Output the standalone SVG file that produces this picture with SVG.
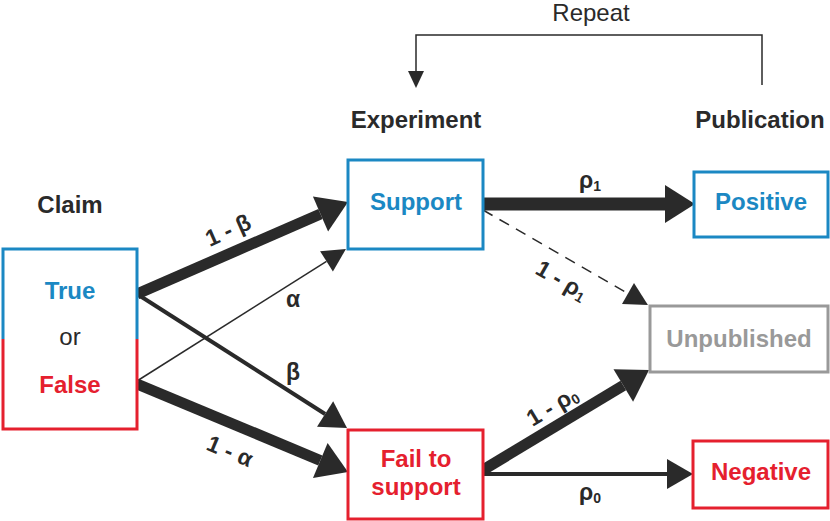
<svg xmlns="http://www.w3.org/2000/svg" width="830" height="521" viewBox="0 0 830 521">
<defs>
<style>
text{font-family:"Liberation Sans",Arial,sans-serif;}
.h{font-size:24px;font-weight:bold;fill:#2a2a2a;text-anchor:middle;}
.n{font-size:24px;font-weight:bold;text-anchor:middle;}
.blue{fill:#1b88c3;}
.red{fill:#e5202e;}
.gray{fill:#999999;}
.lbl{font-size:23px;font-weight:bold;fill:#2a2a2a;text-anchor:middle;}
.sub{font-size:14px;}
.box{fill:#fff;stroke-width:3;}
.bb{stroke:#1b88c3;}
.rb{stroke:#e5202e;}
.gb{stroke:#999999;}
.c{fill:none;stroke:#2a2a2a;stroke-linecap:butt;}
</style>
<marker id="big" markerUnits="userSpaceOnUse" markerWidth="32" markerHeight="40" refX="0" refY="20" orient="auto" viewBox="0 0 32 40" overflow="visible">
<path d="M0,1 L30,20 L0,39 z" fill="#2a2a2a"/>
</marker>
<marker id="med" markerUnits="userSpaceOnUse" markerWidth="28" markerHeight="30" refX="0" refY="15" orient="auto" viewBox="0 0 28 30" overflow="visible">
<path d="M0,0 L26,15 L0,30 z" fill="#2a2a2a"/>
</marker>
<marker id="sm" markerUnits="userSpaceOnUse" markerWidth="24" markerHeight="26" refX="0" refY="13" orient="auto" viewBox="0 0 24 26" overflow="visible">
<path d="M0,1 L23,13 L0,25 z" fill="#2a2a2a"/>
</marker>
<marker id="tiny" markerUnits="userSpaceOnUse" markerWidth="18" markerHeight="18" refX="0" refY="9" orient="auto" viewBox="0 0 18 18" overflow="visible">
<path d="M0,1 L17,9 L0,17 z" fill="#2a2a2a"/>
</marker>
</defs>
<rect width="830" height="521" fill="#fff"/>

<g id="headers">
<text class="h" x="70" y="213">Claim</text>
<text class="h" x="416" y="128">Experiment</text>
<text class="h" x="760" y="128">Publication</text>
<text x="591" y="21" font-size="24" fill="#2a2a2a" text-anchor="middle">Repeat</text>
</g>

<g id="connectors">
<path class="c" stroke-width="1.5" d="M762,85 V35 H416 V71" marker-end="url(#tiny)"/>
<line class="c" stroke-width="11" x1="137" y1="294" x2="320.5" y2="214" marker-end="url(#big)"/>
<line class="c" stroke-width="1.5" x1="137" y1="381" x2="326.5" y2="261.3" marker-end="url(#sm)"/>
<line class="c" stroke-width="4" x1="137" y1="294" x2="325.1" y2="414" marker-end="url(#med)"/>
<line class="c" stroke-width="11" x1="137" y1="384" x2="320.3" y2="460.5" marker-end="url(#big)"/>
<line class="c" stroke-width="13" x1="483" y1="204" x2="665" y2="204" marker-end="url(#big)"/>
<line class="c" stroke-width="1.5" stroke-dasharray="11,8" x1="483" y1="210" x2="628" y2="293.5" marker-end="url(#sm)"/>
<line class="c" stroke-width="11" x1="483" y1="470" x2="623.3" y2="385.5" marker-end="url(#big)"/>
<line class="c" stroke-width="4" x1="483" y1="474" x2="667" y2="474" marker-end="url(#med)"/>
</g>

<g id="edge-labels">
<text class="lbl" transform="translate(228,230) rotate(-24)" y="8">1 - β</text>
<text class="lbl" x="293" y="307">α</text>
<text class="lbl" x="293" y="380">β</text>
<text class="lbl" transform="translate(230,451) rotate(22.6)" y="8">1 - α</text>
<text class="lbl" x="590" y="188">ρ<tspan class="sub" dy="3">1</tspan></text>
<text class="lbl" transform="translate(562,280) rotate(30)" y="8">1 - ρ<tspan class="sub" dy="3">1</tspan></text>
<text class="lbl" transform="translate(552,406) rotate(-31)" y="8">1 - ρ<tspan class="sub" dy="3">0</tspan></text>
<text class="lbl" x="590" y="500">ρ<tspan class="sub" dy="3">0</tspan></text>
</g>

<g id="claim">
<rect x="3" y="249" width="134" height="180" fill="#fff"/>
<path d="M3,339 V249 H137 V339" fill="none" stroke="#1b88c3" stroke-width="3"/>
<path d="M3,339 V429 H137 V339" fill="none" stroke="#e5202e" stroke-width="3"/>
<text class="n blue" x="70" y="299">True</text>
<text x="70" y="345" font-size="24" fill="#2a2a2a" text-anchor="middle">or</text>
<text class="n red" x="70" y="393">False</text>
</g>

<g id="support">
<rect class="box bb" x="348" y="160" width="135" height="89"/>
<text class="n blue" x="416" y="210">Support</text>
</g>

<g id="fail">
<rect class="box rb" x="348" y="430" width="135" height="89"/>
<text class="n red" x="416" y="467">Fail to</text>
<text class="n red" x="416" y="495">support</text>
</g>

<g id="positive">
<rect class="box bb" x="694" y="172" width="134" height="65"/>
<text class="n blue" x="761" y="210">Positive</text>
</g>

<g id="unpublished">
<rect class="box gb" x="650" y="306" width="178" height="66"/>
<text class="n gray" x="739" y="347">Unpublished</text>
</g>

<g id="negative">
<rect class="box rb" x="693" y="441" width="135" height="67"/>
<text class="n red" x="761" y="480">Negative</text>
</g>
</svg>
